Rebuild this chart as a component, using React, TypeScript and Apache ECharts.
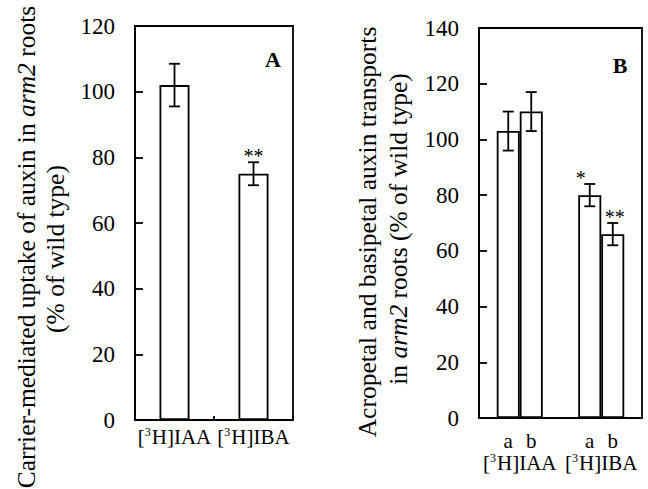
import React, { useEffect, useRef } from "react";
import * as echarts from "echarts";

// Panel A
const categoriesA = ["[³H]IAA", "[³H]IBA"];
const valuesA = [102, 75];
const errorsA = [6.5, 3.5];
const signifA = ["", "**"];
const yMaxA = 120;

// Panel B
const categoriesB = ["[³H]IAA", "[³H]IBA"];
const seriesNamesB = ["a", "b"];
const valuesBa = [103, 80];
const errorsBa = [7, 4];
const signifBa = ["", "*"];
const valuesBb = [110, 66];
const errorsBb = [7, 4];
const signifBb = ["", "**"];
const yMaxB = 140;
const yInterval = 20;

const FONT = "Liberation Serif, Times New Roman, serif";
const BLACK = "#000";
const LW = 1.8;
const TITLE_SIZE = 25.5;

const catFormatter = (v: string) => v.replace("³", "{s|3}");
const catRich = {
  s: { fontSize: 12, fontFamily: FONT, color: BLACK, verticalAlign: "top", lineHeight: 22, padding: [0, 1, 7, 0] },
};

function errSeries(xi: number, yi: number, vals: number[], errs: number[], sig: string[], shift: number, barW: number, sigDx: number) {
  return {
    type: "custom",
    xAxisIndex: xi,
    yAxisIndex: yi,
    z: 10,
    encode: { x: 0, y: 1 },
    data: vals.map((v, i) => [i, v, errs[i], i]),
    renderItem: (params: any, api: any) => {
      const i = api.value(0);
      const v = api.value(1);
      const e = api.value(2);
      const top = api.coord([i, v + e]);
      const bot = api.coord([i, v - e]);
      const x = top[0] + shift * barW / 2;
      const cap = 5.5;
      const st = { stroke: BLACK, lineWidth: LW };
      const children: any[] = [
        { type: "line", shape: { x1: x, y1: top[1], x2: x, y2: bot[1] }, style: st },
        { type: "line", shape: { x1: x - cap, y1: top[1], x2: x + cap, y2: top[1] }, style: st },
        { type: "line", shape: { x1: x - cap, y1: bot[1], x2: x + cap, y2: bot[1] }, style: st },
      ];
      const s = sig[params.dataIndex];
      if (s) {
        children.push({
          type: "text",
          style: {
            text: s,
            x: x + sigDx,
            y: top[1] + 4,
            align: "center",
            verticalAlign: "bottom",
            font: `20px ${FONT}`,
            fill: BLACK,
          },
        });
      }
      return { type: "group", children };
    },
  };
}

export default function App() {
  const ref = useRef<HTMLDivElement>(null);
  useEffect(() => {
    if (!ref.current) return;
    const chart = echarts.init(ref.current, null, { renderer: "svg" });
    const yAxisCommon = {
      type: "value",
      min: 0,
      interval: yInterval,
      splitLine: { show: false },
      axisLine: { show: true, lineStyle: { color: BLACK, width: LW } },
      axisTick: { show: true, inside: true, length: 8, lineStyle: { color: BLACK, width: LW } },
      axisLabel: { color: BLACK, fontFamily: FONT, fontSize: 23, margin: 20 },
    };
    const barLabel = { show: true, position: "bottom", distance: 12, formatter: "{a}", color: BLACK, fontFamily: FONT, fontSize: 21 };
    const option: any = {
      animation: false,
      backgroundColor: "#fff",
      grid: [
        { left: 135, top: 26, width: 158, height: 394, show: true, borderColor: BLACK, borderWidth: LW, backgroundColor: "transparent" },
        { left: 479, top: 28, width: 163, height: 390, show: true, borderColor: BLACK, borderWidth: LW, backgroundColor: "transparent" },
      ],
      xAxis: [
        {
          type: "category",
          gridIndex: 0,
          data: categoriesA,
          axisLine: { show: true, lineStyle: { color: BLACK, width: LW } },
          axisTick: { show: true, inside: true, length: 4, lineStyle: { color: BLACK, width: LW } },
          axisLabel: { interval: 0, color: BLACK, fontFamily: FONT, fontSize: 21, margin: 6, formatter: catFormatter, rich: catRich },
        },
        {
          type: "category",
          gridIndex: 1,
          data: categoriesB,
          axisLine: { show: true, lineStyle: { color: BLACK, width: LW } },
          axisTick: { show: false },
          axisLabel: { interval: 0, color: BLACK, fontFamily: FONT, fontSize: 21, margin: 34, formatter: catFormatter, rich: catRich },
        },
      ],
      yAxis: [
        { ...yAxisCommon, gridIndex: 0, max: yMaxA },
        { ...yAxisCommon, gridIndex: 1, max: yMaxB },
      ],
      series: [
        {
          type: "bar",
          xAxisIndex: 0,
          yAxisIndex: 0,
          data: valuesA,
          barWidth: 30,
          itemStyle: { color: "#fff", borderColor: BLACK, borderWidth: LW },
        },
        {
          type: "bar",
          name: seriesNamesB[0],
          xAxisIndex: 1,
          yAxisIndex: 1,
          data: valuesBa,
          barWidth: 23,
          barGap: "0%",
          itemStyle: { color: "#fff", borderColor: BLACK, borderWidth: LW },
          label: barLabel,
        },
        {
          type: "bar",
          name: seriesNamesB[1],
          xAxisIndex: 1,
          yAxisIndex: 1,
          data: valuesBb,
          barWidth: 23,
          barGap: "0%",
          itemStyle: { color: "#fff", borderColor: BLACK, borderWidth: LW },
          label: barLabel,
        },
        errSeries(0, 0, valuesA, errorsA, signifA, 0, 30, 0),
        errSeries(1, 1, valuesBa, errorsBa, signifBa, -1, 23, -9),
        errSeries(1, 1, valuesBb, errorsBb, signifBb, 1, 23, 2),
      ],
      graphic: [
        {
          type: "text",
          x: 26,
          y: 247,
          rotation: Math.PI / 2,
          style: {
            text: "Carrier-mediated uptake of auxin in {i|arm2} roots",
            font: `${TITLE_SIZE}px ${FONT}`,
            fill: BLACK,
            align: "center",
            verticalAlign: "middle",
            rich: { i: { fontStyle: "italic", fontFamily: FONT, fontSize: TITLE_SIZE } },
          },
        },
        {
          type: "text",
          x: 55,
          y: 249,
          rotation: Math.PI / 2,
          style: { text: "(% of wild type)", font: `${TITLE_SIZE}px ${FONT}`, fill: BLACK, align: "center", verticalAlign: "middle" },
        },
        {
          type: "text",
          x: 367,
          y: 232,
          rotation: Math.PI / 2,
          style: { text: "Acropetal and basipetal auxin transports", font: `${TITLE_SIZE}px ${FONT}`, fill: BLACK, align: "center", verticalAlign: "middle" },
        },
        {
          type: "text",
          x: 398,
          y: 229,
          rotation: Math.PI / 2,
          style: {
            text: "in {i|arm2} roots (% of wild type)",
            font: `${TITLE_SIZE}px ${FONT}`,
            fill: BLACK,
            align: "center",
            verticalAlign: "middle",
            rich: { i: { fontStyle: "italic", fontFamily: FONT, fontSize: TITLE_SIZE } },
          },
        },
        { type: "text", x: 273, y: 59, style: { text: "A", font: `bold 22px ${FONT}`, fill: BLACK, align: "center", verticalAlign: "middle" } },
        { type: "text", x: 620, y: 65, style: { text: "B", font: `bold 22px ${FONT}`, fill: BLACK, align: "center", verticalAlign: "middle" } },
      ],
    };
    chart.setOption(option);
    return () => chart.dispose();
  }, []);
  return <div ref={ref} style={{ position: "absolute", left: 0, top: 0, width: 648, height: 489 }} />;
}
